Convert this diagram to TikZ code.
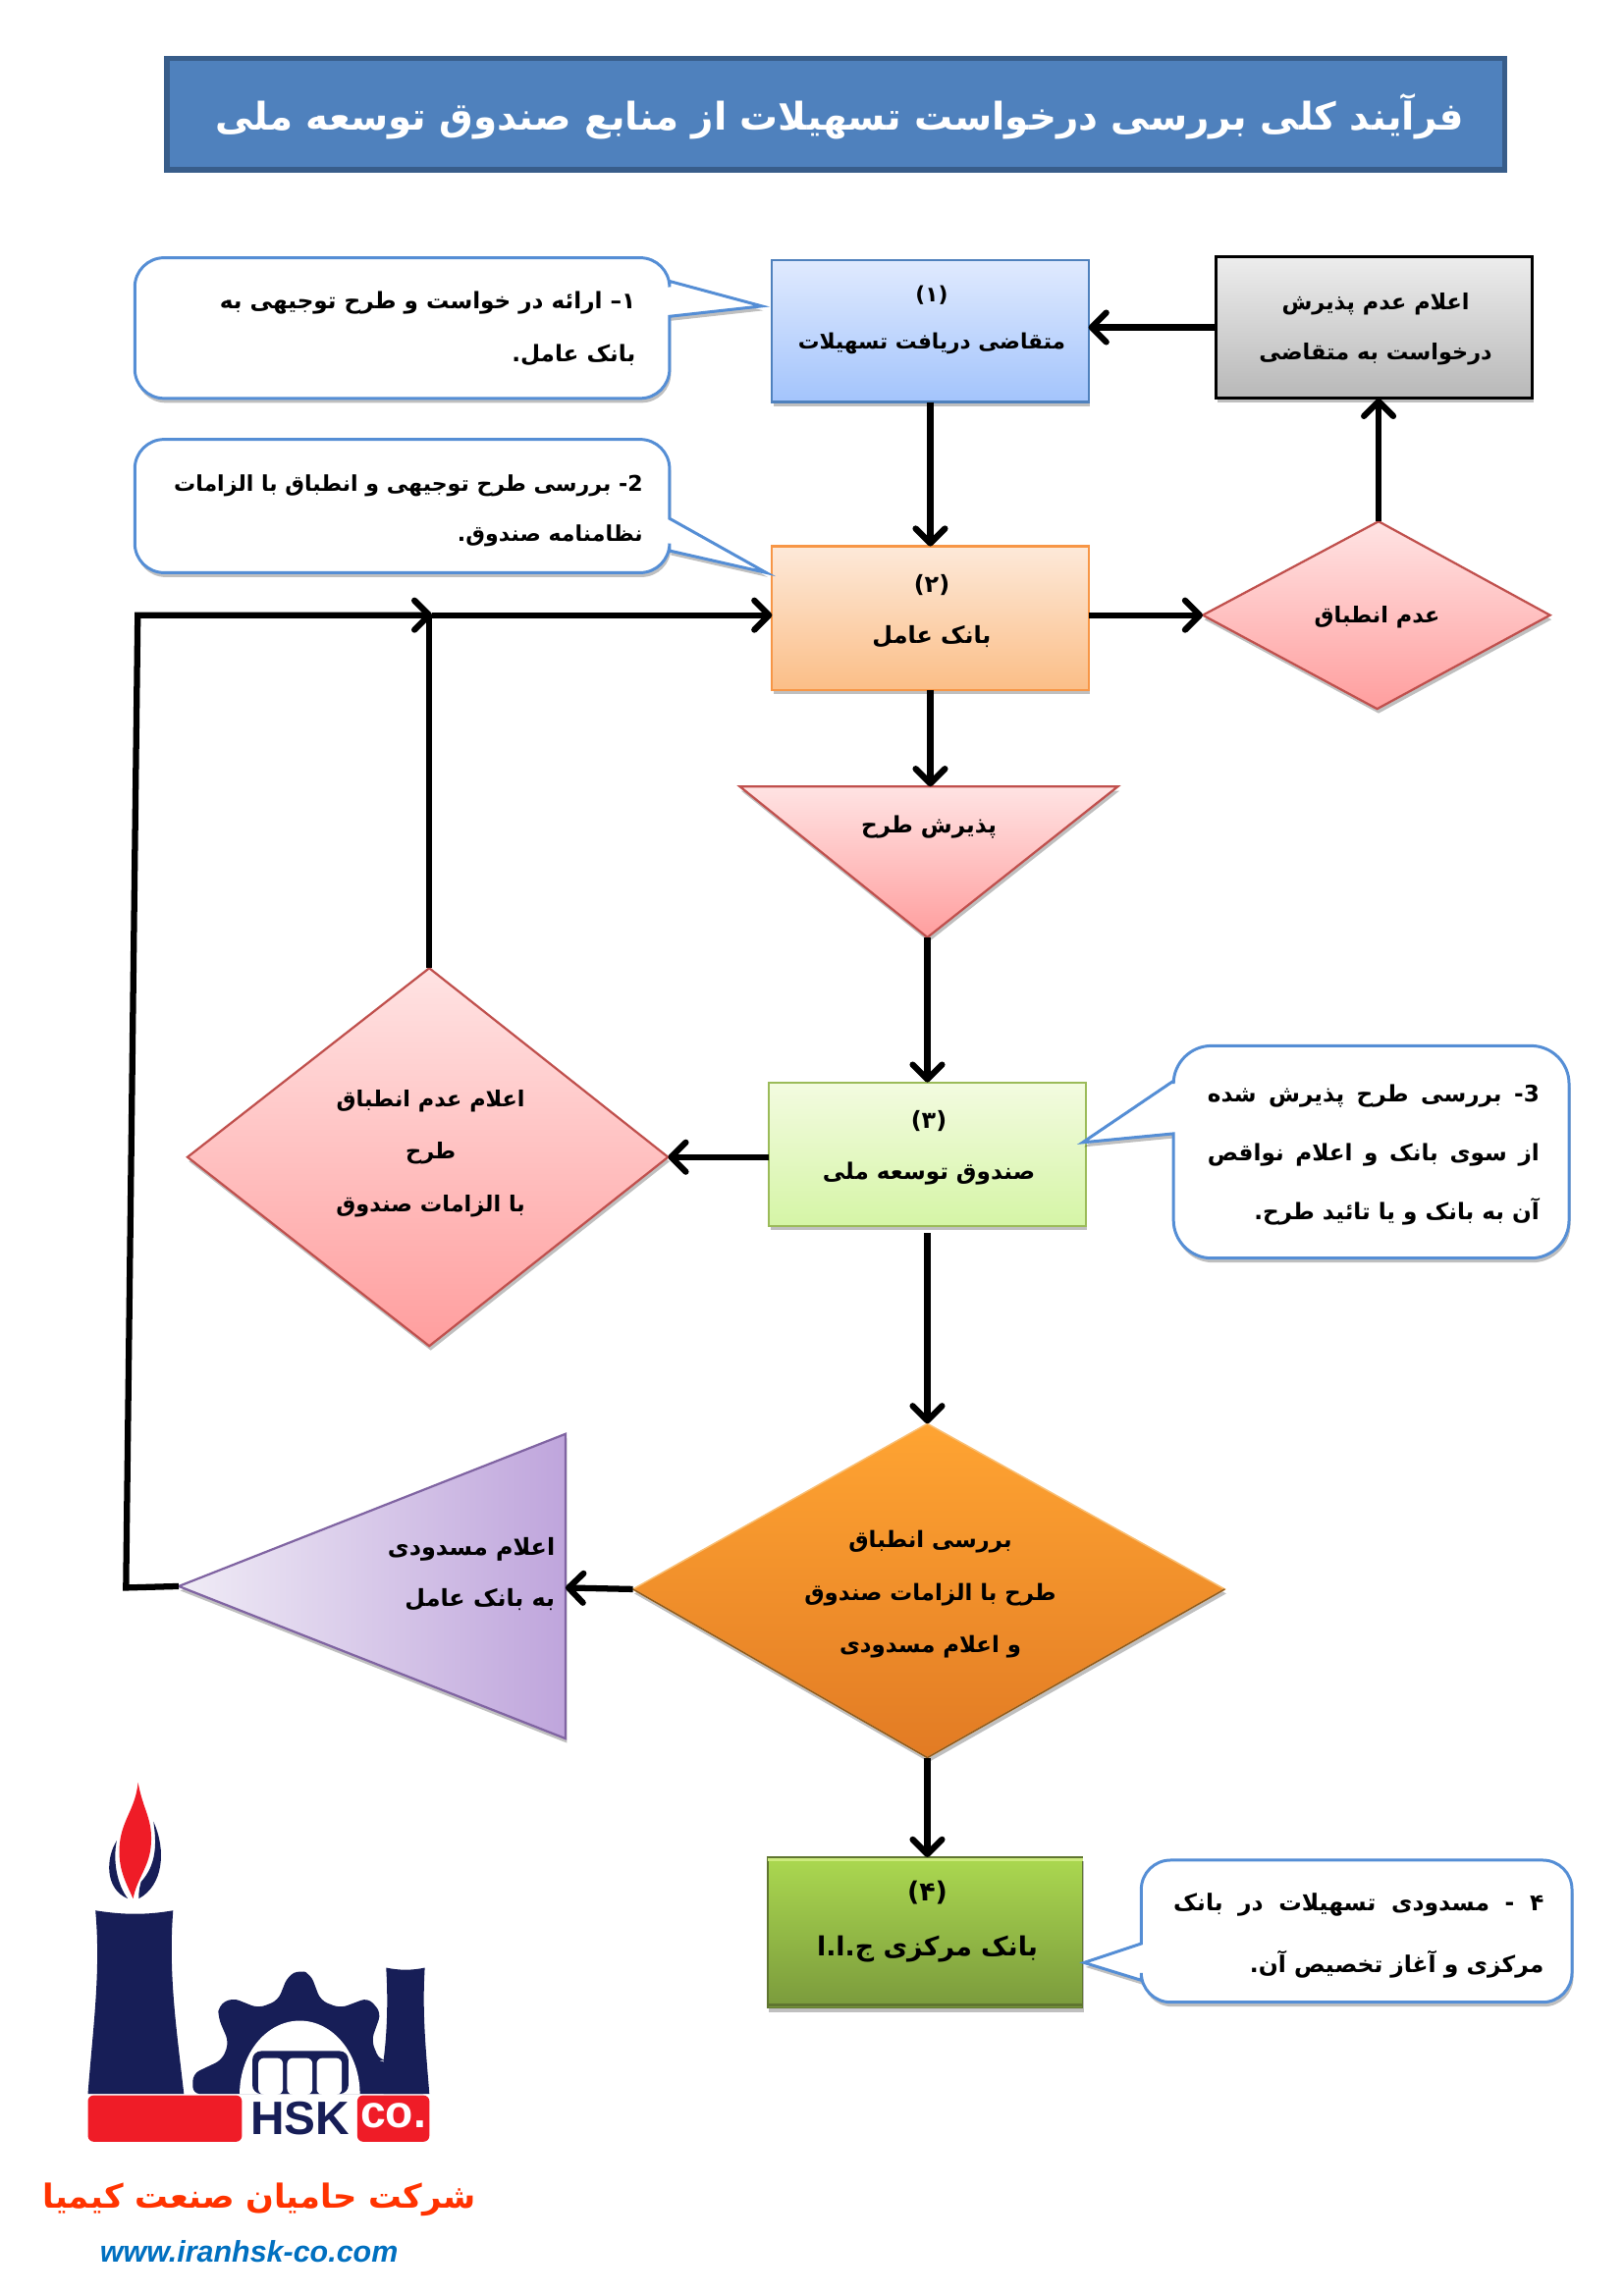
\documentclass[tikz,border=0pt]{standalone}
\usepackage{fontspec}
\usetikzlibrary{arrows.meta,shadows}
\TeXXeTstate=1
\newfontfamily\arfont[Script=Arabic]{DejaVu Sans}
\setmainfont{Liberation Sans}
\newcommand{\fa}[1]{\beginR #1\endR}
\newcommand{\gap}[1]{\spaceskip=#1\relax}
\definecolor{navy}{HTML}{171E57}
\definecolor{logored}{HTML}{EF1C27}
\definecolor{HRed}{HTML}{C0504D}
\definecolor{RedT}{HTML}{FFE3E3}
\definecolor{RedB}{HTML}{FF9E9E}
\definecolor{CallB}{HTML}{558ED5}
\definecolor{TitleF}{HTML}{4F81BD}
\definecolor{TitleB}{HTML}{385D8A}
\definecolor{BlueT}{HTML}{E0EAFE}
\definecolor{BlueB}{HTML}{A3C4FC}
\definecolor{GreyT}{HTML}{EDEDED}
\definecolor{GreyB}{HTML}{B8B8B8}
\definecolor{OrT}{HTML}{FDE9D9}
\definecolor{OrB}{HTML}{FBBE87}
\definecolor{OrL}{HTML}{F79646}
\definecolor{GrT}{HTML}{F3FBE0}
\definecolor{GrB}{HTML}{D5F5A6}
\definecolor{GrL}{HTML}{9BBB59}
\definecolor{OlT}{HTML}{ABD850}
\definecolor{OlB}{HTML}{7A9A3C}
\definecolor{OlL}{HTML}{5F7530}
\definecolor{OlH}{HTML}{CDEB7E}
\definecolor{DmT}{HTML}{FFA432}
\definecolor{DmB}{HTML}{E27B24}
\definecolor{DmH}{HTML}{F9BE72}
\definecolor{DmD}{HTML}{8F5A1C}
\definecolor{PuL}{HTML}{F0ECF6}
\definecolor{PuR}{HTML}{BFA5DC}
\definecolor{PuB}{HTML}{8064A2}
\definecolor{Flame}{HTML}{FF3300}
\definecolor{Web}{HTML}{0070C0}
\tikzset{
  x=1pt,y=-1pt,
  shad/.style={drop shadow={shadow xshift=1pt,shadow yshift=-3pt,opacity=.25,fill=black}},
  boxshape/.style={rectangle,minimum width=216pt,minimum height=98pt,inner sep=0pt,outer sep=0pt,line width=1.5pt,shad},
  arr/.style={line width=4.2pt,-{Straight Barb[length=10pt,width=20pt,line width=4.2pt,round]}},
  plainline/.style={line width=4.2pt},
  redfill/.style={draw=HRed,line width=1.5pt,top color=RedT,bottom color=RedB,shad},
  callout/.style={draw=CallB,line width=2pt,fill=white,shad},
  txt/.style={font=\arfont\bfseries\fontsize{#1}{34}\selectfont,inner sep=0pt,align=center,text=black,yshift=-1.5pt},
  rtxt/.style={font=\arfont\bfseries\fontsize{#1}{38}\selectfont,inner sep=0pt,align=right,text=black,anchor=east,yshift=-1.5pt},
}
\begin{document}
\begin{tikzpicture}
\useasboundingbox (0,0) rectangle (1108.5,1567.6);
% title
\node[rectangle,minimum width=913pt,minimum height=76pt,fill=TitleF,draw=TitleB,line width=3.5pt,inner sep=0pt] (title) at (570.5,78) {};
\node[txt=26,text=white] (titletext) at (573,78) {\fa{فرآیند کلی بررسی درخواست تسهیلات از منابع صندوق توسعه ملی}};
% boxes
\node[boxshape,draw=TitleF,top color=BlueT,bottom color=BlueB,minimum height=97pt] (b1) at (635,226) {};
\node[boxshape,draw=black,top color=GreyT,bottom color=GreyB,line width=2pt,minimum height=97pt] (grey) at (938,223.5) {};
\node[boxshape,draw=OrL,top color=OrT,bottom color=OrB] (b2) at (635,422) {};
\node[boxshape,draw=GrL,top color=GrT,bottom color=GrB] (b3) at (633,788) {};
\node[boxshape,draw=OlL,line width=1pt,top color=OlT,bottom color=OlB,minimum width=215pt,minimum height=103pt] (b4) at (631.5,1319.5) {};
\draw[OlH,line width=2pt] ([yshift=-2pt]b4.north west) -- ([yshift=-2pt]b4.north east);
\draw[OlL,line width=2pt] ([yshift=2pt]b4.south west) -- ([yshift=2pt]b4.south east);
% red diamond
\coordinate (drw) at (821,420); \coordinate (drn) at (941,356); \coordinate (dre) at (1058,420); \coordinate (drs) at (940,484);
\path[redfill] (drw) -- (drn) -- (dre) -- (drs) -- cycle;
% down triangle
\coordinate (tdl) at (505,537); \coordinate (tdr) at (763,537); \coordinate (tds) at (633,640); \coordinate (tdt) at (635,537);
\path[redfill] (tdl) -- (tdr) -- (tds) -- cycle;
% large diamond
\coordinate (bdw) at (128,790); \coordinate (bdn) at (293,661); \coordinate (bde) at (456,790); \coordinate (bds) at (293,919);
\path[redfill] (bdw) -- (bdn) -- (bde) -- (bds) -- cycle;
% orange diamond
\coordinate (odw) at (432,1085); \coordinate (odn) at (633,972); \coordinate (ode) at (836,1085); \coordinate (ods) at (633,1200);
\path[top color=DmT,bottom color=DmB,draw=DmH,line width=1pt,shad] (odw) -- (odn) -- (ode) -- (ods) -- cycle;
\draw[draw=DmD,line width=1pt] (odw) -- (ods) -- (ode);
% purple triangle
\coordinate (ptw) at (122,1083); \coordinate (ptn) at (386,979); \coordinate (pts) at (386,1187); \coordinate (pte) at (386,1084);
\path[left color=PuL,right color=PuR,draw=PuB,line width=1.5pt,shad] (ptw) -- (ptn) -- (pts) -- cycle;
% callouts
\coordinate (c1t) at (520,209);
\path[callout] (457,192) -- (c1t) -- (457,216) [rounded corners=20pt] -- (457,272) -- (92,272) -- (92,176) -- (457,176) [sharp corners] -- cycle;
\coordinate (c2t) at (523,391);
\path[callout] (457,354) -- (c2t) -- (457,376) [rounded corners=20pt] -- (457,391) -- (92,391) -- (92,300) -- (457,300) [sharp corners] -- cycle;
\coordinate (c3t) at (739,780);
\path[callout] (801,738) -- (c3t) -- (801,774) [rounded corners=26pt] -- (801,859) -- (1071,859) -- (1071,714) -- (801,714) [sharp corners] -- cycle;
\coordinate (c4t) at (740,1340);
\path[callout] (779,1327) -- (c4t) -- (779,1352) [rounded corners=20pt] -- (779,1367) -- (1073,1367) -- (1073,1270) -- (779,1270) [sharp corners] -- cycle;
% connectors
\draw[arr] (grey.west) -- (grey.west -| b1.east);
\draw[arr] (b1.south) -- (b2.north);
\draw[arr] (drn) -- (drn |- grey.south);
\draw[arr] (b2.east |- drw) -- (drw);
\draw[arr] (b2.south) -- (tdt);
\draw[arr] (tds) -- (b3.north);
\draw[arr] (b3.west |- bde) -- (bde);
\draw[arr,shorten <=5pt] (b3.south) -- (odn);
\draw[arr] (odw) -- (pte);
\draw[arr] (ods) -- (ods |- b4.north);
\coordinate (lb) at (86,1084); \coordinate (lt) at (94,420); \coordinate (jn) at (295,420);
\draw[arr,line join=miter] (ptw) -- (lb) -- (lt) -- (jn);
\draw[arr] (jn) -- (b2.west |- jn);
\draw[plainline] (bdn) -- (bdn |- jn);
% texts
\node[txt=14.5] (t1a) at (636,200) {\beginR (۱)\endR};
\node[txt=14.5] (t1b) at (636,233) {\beginR متقاضی دریافت تسهیلات\endR};
\node[txt=15] (tg) at (939,223) {\beginR اعلام عدم پذیرش\endR\\\beginR درخواست به متقاضی\endR};
\node[txt=16] (t2a) at (636,398) {\beginR (۲)\endR};
\node[txt=16] (t2b) at (636,433) {\beginR بانک عامل\endR};
\node[txt=15] (tdr) at (940,420) {\beginR عدم انطباق\endR};
\node[txt=15.5] (ttd) at (634,563) {\beginR پذیرش طرح\endR};
\node[txt=16] (t3a) at (634,764) {\beginR (۳)\endR};
\node[txt=15.5] (t3b) at (634,800) {\beginR صندوق توسعه ملی\endR};
\node[txt=15,font=\arfont\bfseries\fontsize{15}{36}\selectfont] (tbd) at (294,786) {\beginR اعلام عدم انطباق\endR\\\beginR طرح\endR\\\beginR با الزامات صندوق\endR};
\node[txt=15.3,font=\arfont\bfseries\fontsize{15.3}{36}\selectfont] (tod) at (635,1087) {\beginR بررسی انطباق\endR\\\beginR طرح با الزامات صندوق\endR\\\beginR و اعلام مسدودی\endR};
\node[rtxt=16,font=\arfont\bfseries\fontsize{16}{35}\selectfont] (tpt) at (379,1073) {\beginR اعلام مسدودی\endR\\\beginR به بانک عامل\hspace{8pt}\endR};
\node[txt=18] (t4a) at (633,1291) {\beginR (۴)\endR};
\node[txt=18] (t4b) at (633,1329) {\beginR بانک مرکزی ج.ا.ا\endR};
\node[rtxt=15.5,font=\arfont\bfseries\fontsize{15.5}{36}\selectfont] (tc1) at (434,223) {\beginR ۱– ارائه در خواست و طرح توجیهی به\endR\\\beginR بانک عامل.\endR};
\node[rtxt=14.8,font=\arfont\bfseries\fontsize{14.8}{34}\selectfont] (tc2) at (439,347) {\beginR 2- بررسی طرح توجیهی و انطباق با الزامات\endR\\\beginR نظامنامه صندوق.\endR};
\node[rtxt=15.5,font=\arfont\bfseries\fontsize{15.5}{40}\selectfont] (tc3) at (1051,787) {\gap{8.4pt}\beginR 3- بررسی طرح پذیرش شده\endR\\\gap{7.8pt}\beginR از سوی بانک و اعلام نواقص\endR\\\gap{0pt}\beginR آن به بانک و یا تائید طرح.\endR};
\node[rtxt=15.7,font=\arfont\bfseries\fontsize{15.7}{42}\selectfont] (tc4) at (1054,1320) {\gap{10.5pt}\beginR ۴ - مسدودی تسهیلات در بانک\endR\\\gap{0pt}\beginR مرکزی و آغاز تخصیص آن.\endR};
% logo
\begin{scope}[shift={(60,1217)},x=0.2237pt,y=-0.2381pt,shift={(-270,-95)}]
\fill[logored] (423,95) .. controls (440,180) and (470,200) .. (462,280) .. controls (455,340) and (420,370) .. (408,428) .. controls (385,380) and (360,340) .. (367,270) .. controls (375,200) and (415,170) .. (423,95) -- cycle;
\fill[navy] (358,262) .. controls (325,310) and (320,400) .. (392,428) .. controls (360,390) and (345,320) .. (358,262) -- cycle;
\fill[navy] (470,207) .. controls (510,290) and (500,390) .. (425,428) .. controls (425,400) and (430,390) .. (432,380) .. controls (480,330) and (480,270) .. (470,207) -- cycle;
\fill[navy] (293,462) .. controls (380,475) and (450,475) .. (530,462) .. controls (515,640) and (540,800) .. (563,988) -- (270,988) .. controls (285,800) and (310,640) .. (293,462) -- cycle;
\fill[navy,rounded corners=5pt] (590,988) -- (590,930) -- (680,890) -- (700,840) -- (668,770) -- (668,735) -- (710,712) -- (790,742) -- (850,720) -- (880,650) -- (917,632) -- (950,645) -- (980,720) -- (1040,742) -- (1125,712) -- (1165,755) -- (1135,835) -- (1160,892) -- (1172,892) -- (1312,988) -- cycle;
\fill[navy] (1180,626) .. controls (1220,634) and (1260,634) .. (1298,626) .. controls (1290,750) and (1300,850) .. (1312,988) -- (1172,988) -- (1172,892) .. controls (1185,800) and (1185,700) .. (1180,626) -- cycle;
\fill[white] (733,988) arc[start angle=180,end angle=360,x radius=183.5,y radius=210] -- cycle;
\fill[navy,rounded corners=6pt] (772,988) -- (772,865) -- (1065,865) -- (1065,988) -- cycle;
\fill[white,rounded corners=4pt] (790,990) -- (790,885) -- (865,885) -- (865,990) -- cycle;
\fill[white,rounded corners=4pt] (878,990) -- (878,885) -- (955,885) -- (955,990) -- cycle;
\fill[white,rounded corners=4pt] (968,990) -- (968,885) -- (1045,885) -- (1045,990) -- cycle;
\fill[logored,rounded corners=4pt] (270,992) rectangle (740,1125);
\fill[logored,rounded corners=4pt] (1092,992) rectangle (1312,1125);
\node[font=\bfseries\fontsize{32}{32}\selectfont,text=navy,inner sep=0pt] (hsk) at (917,1058) {HSK};
\node[font=\bfseries\fontsize{31}{31}\selectfont,text=white,inner sep=0pt] (coname) at (1202,1050) {co.};
\end{scope}
\node[font=\arfont\bfseries\fontsize{22.6}{25}\selectfont,text=Flame,inner sep=0pt] (company) at (177,1502) {\beginR شرکت حامیان صنعت کیمیا\endR};
\node[font=\bfseries\itshape\fontsize{20.4}{20}\selectfont,text=Web,inner sep=0pt] (web) at (170,1537) {www.iranhsk-co.com};
\end{tikzpicture}
\end{document}
